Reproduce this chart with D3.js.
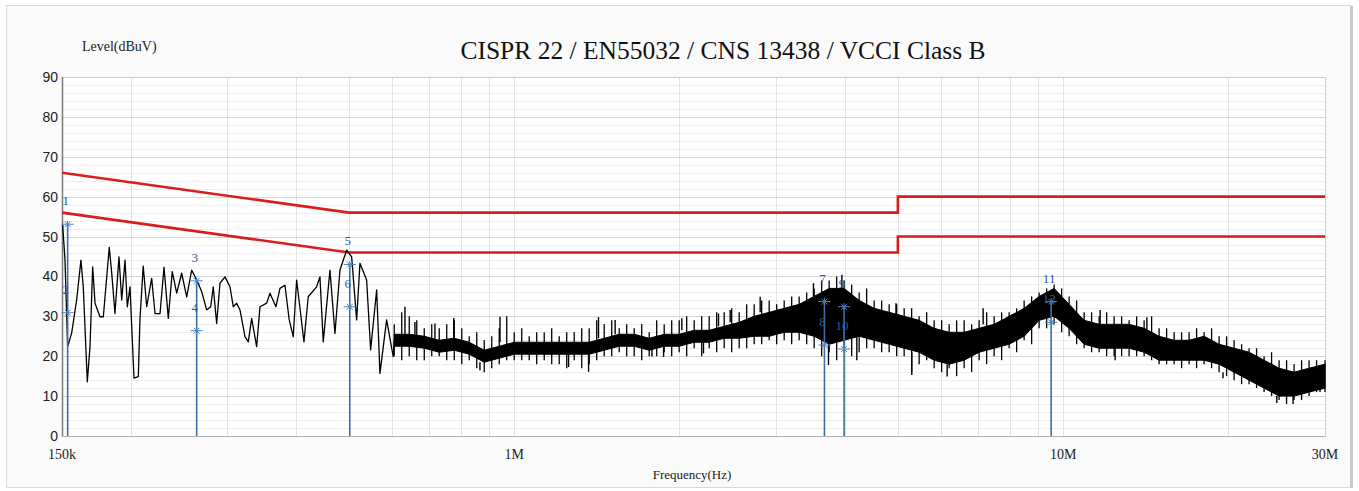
<!DOCTYPE html>
<meta charset="utf-8">
<script src="https://d3js.org/d3.v7.min.js"></script>
<style>
  body { margin: 0; background: #fff; }
</style>
<div id="chart"></div>
<script>

// limit lines (MHz, dBuV)
var qpFreq = [0.15, 0.5, 5, 5, 30];
var qpLevel = [66, 56, 56, 60, 60];
var avFreq = [0.15, 0.5, 5, 5, 30];
var avLevel = [56, 46, 46, 50, 50];

// trace below 600 kHz, read peak by peak (kHz, dBuV)
var lowFreq = [150.4, 151.9, 153.6, 156.2, 159.5, 162.4, 164.0, 166.8, 168.7, 170.6,
  172.3, 175.9, 178.4, 182.9, 184.8, 187.3, 190.5, 192.7, 195.4, 197.3,
  199.5, 202.9, 206.6, 208.0, 210.9, 214.0, 218.5, 221.6, 226.3, 230.1,
  234.3, 238.2, 242.7, 247.8, 253.1, 258.4, 263.9, 269.5, 275.2, 279.9,
  282.9, 287.0, 291.0, 297.2, 303.5, 307.7, 312.1, 316.5, 323.2, 327.7,
  332.4, 339.4, 344.2, 354.0, 358.9, 368.0, 374.3, 382.2, 389.1, 395.7,
  401.4, 413.9, 421.4, 436.5, 442.6, 448.8, 461.6, 471.4, 481.4, 495.1,
  505.6, 516.3, 523.5, 538.4, 547.5, 561.5, 569.3, 585.5, 601.9];
var lowLevel = [52.9, 44.1, 22.4, 25.8, 34.1, 44.1, 37.4, 13.6, 22.4, 42.4,
  33.3, 29.9, 29.9, 47.3, 40.8, 30.7, 44.9, 34.1, 44.1, 32.4,
  37.4, 14.5, 14.9, 29.1, 42.6, 32.4, 39.5, 30.7, 30.7, 42.3,
  29.5, 41.2, 35.8, 40.8, 34.9, 41.6, 39.1, 36.2, 31.6, 32.4,
  37.4, 28.2, 38.3, 39.9, 37.4, 32.4, 33.3, 31.6, 24.9, 23.6,
  29.5, 22.4, 32.4, 33.3, 35.8, 32.4, 37.0, 37.8, 29.1, 24.9,
  39.1, 23.6, 34.9, 37.4, 39.9, 23.6, 41.6, 25.7, 41.6, 46.6,
  44.9, 29.1, 43.3, 39.1, 21.6, 36.6, 15.7, 29.1, 19.9];

// trace above 600 kHz is a dense noise band: core lower / upper edge (MHz, dBuV)
var bandFreq = [0.6045, 0.6438, 0.6856, 0.7301, 0.7776, 0.828, 0.8818, 0.939, 1.0, 1.0649,
  1.1341, 1.2077, 1.2862, 1.3696, 1.4586, 1.5533, 1.6542, 1.7616, 1.876, 1.9978,
  2.1275, 2.2656, 2.4128, 2.5695, 2.7363, 2.914, 3.1032, 3.3047, 3.5193, 3.7478,
  3.9912, 4.2504, 4.5264, 4.8203, 5.1333, 5.4667, 5.8216, 6.1997, 6.6023, 7.031,
  7.4875, 7.9737, 8.4915, 9.0429, 9.6301, 10.255, 10.921, 11.631, 12.386, 13.19,
  14.047, 14.959, 15.93, 16.964, 18.066, 19.239, 20.488, 21.818, 23.235, 24.744,
  26.351, 28.062, 30.0];
var bandLow = [22.5, 22.5, 22, 21, 21.5, 20.5, 18.5, 19.5, 20.5, 20.5,
  20.5, 20.5, 20.5, 20.5, 21.5, 22.5, 22.5, 21.5, 22.5, 22.5,
  23.5, 23.5, 24.5, 24.5, 25, 25, 26, 26, 25, 23,
  24, 25, 24, 23, 22, 21, 19, 18, 19, 21,
  22, 23, 25, 29, 30, 27, 23, 22, 22, 22,
  21, 19, 19, 19, 19, 18, 16, 14, 12, 10,
  10, 11, 12];
var bandHigh = [25.5, 25.5, 25, 24, 24.5, 23.5, 21.5, 22.5, 23.5, 23.5,
  23.5, 23.5, 23.5, 23.5, 24.5, 25.5, 25.5, 24.5, 25.5, 25.5,
  26.5, 26.5, 27.5, 28.5, 30, 31, 32, 33, 35, 37,
  37, 34, 32, 31, 30, 29, 27, 26, 26, 27,
  28, 30, 32, 35, 37, 33, 29, 28, 28, 28,
  27, 25, 24, 24, 25, 23, 22, 21, 19, 17,
  16, 17, 18];
// outer tips of the noise at the band samples (dBuV)
var bandTipTop = [28, 30, 27, 27, 29, 25, 24, 27, 26, 25,
  26, 25, 26, 27, 28, 27, 27, 26, 28, 29,
  29, 30, 31, 31, 33, 34, 34, 35, 37, 39,
  39, 36, 34, 33, 32, 30, 29, 28, 29, 29,
  30, 31, 34, 36, 38, 35, 31, 30, 30, 29,
  29, 27, 26, 26, 26, 25, 24, 22, 20, 19,
  18, 19, 19];
var bandTipBottom = [20, 20, 19, 20, 19, 19, 16, 18, 19, 19,
  19, 18, 19, 18, 20, 21, 20, 20, 21, 21,
  22, 22, 22, 22, 23, 24, 24, 24, 22, 21,
  22, 21, 22, 21, 20, 18, 17, 17, 17, 19,
  20, 22, 24, 27, 28, 25, 22, 21, 20, 20,
  20, 18, 18, 18, 18, 16, 14, 13, 11, 9,
  9, 10, 11];

// outer tips of the noise between the band samples (MHz, dBuV)
var tipFreq = [0.6238, 0.6644, 0.7075, 0.7534, 0.8024, 0.8545, 0.91, 0.969, 1.032, 1.0989,
  1.1703, 1.2463, 1.3273, 1.4134, 1.5052, 1.6029, 1.7071, 1.8179, 1.936, 2.0616,
  2.1955, 2.338, 2.4899, 2.6516, 2.8238, 3.0071, 3.2024, 3.4103, 3.6318, 3.8676,
  4.1188, 4.3862, 4.6711, 4.9744, 5.2974, 5.6414, 6.0077, 6.3978, 6.8133, 7.2557,
  7.7268, 8.2286, 8.7629, 9.3319, 9.9379, 10.583, 11.27, 12.003, 12.782, 13.612,
  14.496, 15.437, 16.439, 17.506, 18.643, 19.854, 21.143, 22.515, 23.978, 25.535,
  27.193, 28.959];
var tipTop = [31, 29, 28, 28, 27, 26, 25, 30, 27, 26,
  27, 26, 27, 29, 29, 28, 28, 29, 29, 30,
  30, 31, 32, 33, 34, 33, 35, 36, 39, 40,
  38, 37, 34, 33, 32, 31, 29, 29, 28, 31,
  31, 32, 35, 37, 37, 34, 31, 31, 30, 30,
  30, 27, 26, 27, 27, 25, 23, 22, 21, 19,
  19, 19];
var tipBottom = [19, 19, 20, 19, 18, 17, 17, 19, 19, 18,
  18, 17, 17, 19, 20, 20, 19, 20, 20, 20,
  20, 21, 21, 22, 23, 23, 23, 23, 20, 19,
  20, 22, 21, 20, 16, 19, 16, 15, 16, 18,
  19, 21, 23, 27, 26, 23, 21, 20, 20, 20,
  19, 18, 17, 17, 17, 15, 13, 12, 10, 8,
  9, 11];

// single spikes standing out of the band (MHz, dBuV)
var spikeFreq = [0.6323, 0.6593, 0.717, 0.776, 0.866, 0.942, 1.256, 1.366, 1.424, 1.527,
  1.782, 1.871, 2.02, 2.212, 2.356, 2.474, 2.806, 3.509, 3.737, 3.953,
  4.209, 4.96, 5.30, 6.148, 7.15, 11.68, 12.44, 14.21, 19.56, 24.51,
  26.24, 29.38];
var spikeLevel = [32.4, 28.6, 28.2, 29.6, 16.5, 29.9, 17.3, 16.1, 29.8, 29.1,
  19.9, 19.8, 29.5, 20.7, 30.7, 31.6, 34.9, 38.3, 17.8, 40.4,
  19.0, 33.3, 15.3, 14.9, 32.0, 31.6, 19.0, 29.8, 14.5, 8.3,
  8.0, 11.0];

// markers (MHz, dBuV)
var markerNo = [1, 2, 3, 4, 5, 6, 7, 8, 9, 10, 11, 12];
var markerFreq = [0.1536, 0.1536, 0.2639, 0.2639, 0.5016, 0.5016, 3.674, 3.674, 3.99, 3.99, 9.51, 9.51];
var markerLevel = [53.1, 30.9, 38.9, 26.4, 43.0, 32.4, 33.7, 22.8, 32.4, 21.8, 33.7, 28.5];

// axis ticks
var xTicks = [0.15, 1, 10, 30];
var xTickLabels = ["150k", "1M", "10M", "30M"];
var xGrid = [0.2, 0.3, 0.4, 0.5, 0.6, 0.7, 0.8, 0.9, 1, 2, 3, 4, 5, 6, 7, 8, 9, 10, 20];
var yTicks = [0, 10, 20, 30, 40, 50, 60, 70, 80, 90];

var W = 1359, H = 491;
var margin = {top: 77, right: 34, bottom: 55, left: 62},
    width = W - margin.left - margin.right,
    height = H - margin.top - margin.bottom;

var svg = d3.select("#chart")
  .append("svg")
    .attr("width", W)
    .attr("height", H);

// outer panel
svg.append("rect")
  .attr("x", 6.5).attr("y", 5.5)
  .attr("width", 1344).attr("height", 482)
  .attr("fill", "#fafafa")
  .attr("stroke", "#d9d9d9");
svg.append("line")
  .attr("x1", 1351.5).attr("x2", 1351.5)
  .attr("y1", 6).attr("y2", 488)
  .attr("stroke", "#c9c9c9").attr("stroke-width", 3);

var g = svg.append("g")
  .attr("transform", "translate(" + margin.left + "," + margin.top + ")");

var x = d3.scaleLog()
  .domain([0.15, 30])
  .range([0, width]);
var y = d3.scaleLinear()
  .domain([0, 90])
  .range([height, 0]);

g.append("rect")
  .attr("width", width).attr("height", height)
  .attr("fill", "#fff");

// grid
g.selectAll(".minor")
  .data(d3.range(0, 90, 2).filter(function(v) { return v % 10 != 0; }))
  .enter().append("line")
    .attr("x1", 0).attr("x2", width)
    .attr("y1", function(d) { return Math.round(y(d)) + 0.5; })
    .attr("y2", function(d) { return Math.round(y(d)) + 0.5; })
    .attr("stroke", "#eeeeee");
g.selectAll(".vgrid")
  .data(xGrid)
  .enter().append("line")
    .attr("x1", function(d) { return Math.round(x(d)) + 0.5; })
    .attr("x2", function(d) { return Math.round(x(d)) + 0.5; })
    .attr("y1", 0).attr("y2", height)
    .attr("stroke", "#e3e3e3");
g.selectAll(".major")
  .data(yTicks.slice(1))
  .enter().append("line")
    .attr("x1", 0).attr("x2", width)
    .attr("y1", function(d) { return Math.round(y(d)) + 0.5; })
    .attr("y2", function(d) { return Math.round(y(d)) + 0.5; })
    .attr("stroke", "#d6d6d6");

g.append("rect")
  .attr("x", 0.5).attr("y", 0.5)
  .attr("width", width).attr("height", height)
  .attr("fill", "none")
  .attr("stroke", "#cfcfcf");
g.append("line")
  .attr("x1", 0.5).attr("x2", 0.5).attr("y1", 0).attr("y2", height + 1)
  .attr("stroke", "#7a7a7a").attr("stroke-width", 1.5);
g.append("line")
  .attr("x1", 0).attr("x2", width).attr("y1", height + 0.5).attr("y2", height + 0.5)
  .attr("stroke", "#b0b0b0");

// tick labels
g.selectAll(".ylab")
  .data(yTicks)
  .enter().append("text")
    .attr("x", -4)
    .attr("y", function(d) { return y(d); })
    .attr("dy", "0.36em")
    .attr("text-anchor", "end")
    .attr("font-family", "Liberation Sans, Arial, sans-serif")
    .attr("font-size", "14px")
    .attr("fill", "#222")
    .text(function(d) { return d; });

g.selectAll(".xlab")
  .data(xTicks)
  .enter().append("text")
    .attr("x", function(d) { return x(d); })
    .attr("y", height + 23)
    .attr("text-anchor", "middle")
    .attr("font-family", "Liberation Serif, serif")
    .attr("font-size", "14px")
    .attr("fill", "#222")
    .text(function(d, i) { return xTickLabels[i]; });

svg.append("text")
  .attr("x", 692).attr("y", 479)
  .attr("text-anchor", "middle")
  .attr("font-family", "Liberation Serif, serif")
  .attr("font-size", "13px")
  .attr("fill", "#222")
  .text("Frequency(Hz)");

svg.append("text")
  .attr("x", 82).attr("y", 51)
  .attr("font-family", "Liberation Serif, serif")
  .attr("font-size", "14px")
  .attr("fill", "#222")
  .text("Level(dBuV)");

svg.append("text")
  .attr("x", 723).attr("y", 59)
  .attr("text-anchor", "middle")
  .attr("font-family", "Liberation Serif, serif")
  .attr("font-size", "25.5px")
  .attr("fill", "#111")
  .text("CISPR 22 / EN55032 / CNS 13438 / VCCI Class B");

// limit lines
var limitLine = d3.line()
  .x(function(d) { return x(d[0]); })
  .y(function(d) { return y(d[1]); });

[[qpFreq, qpLevel], [avFreq, avLevel]].forEach(function(l) {
  g.append("path")
    .datum(d3.zip(l[0], l[1]))
    .attr("fill", "none")
    .attr("stroke", "#d91c1c")
    .attr("stroke-width", 2.6)
    .attr("d", limitLine);
});

// trace: low part as a line
var lowPts = d3.zip(lowFreq, lowLevel).map(function(d) { return [d[0] / 1000, d[1]]; });
// join the line to the start of the band
lowPts.push([bandFreq[0], (bandLow[0] + bandHigh[0]) / 2]);
g.append("path")
  .datum(lowPts)
  .attr("fill", "none")
  .attr("stroke", "#000")
  .attr("stroke-width", 1.3)
  .attr("stroke-linejoin", "round")
  .attr("d", limitLine);

// trace: dense band core
var band = d3.area()
  .x(function(d) { return x(d[0]); })
  .y0(function(d) { return y(d[1]); })
  .y1(function(d) { return y(d[2]); });
g.append("path")
  .datum(d3.zip(bandFreq, bandLow, bandHigh))
  .attr("fill", "#000")
  .attr("stroke", "#000")
  .attr("stroke-width", 1)
  .attr("d", band);

// noise tips, at and between the band samples
var tips = d3.zip(tipFreq, tipBottom, tipTop).concat(d3.zip(bandFreq, bandTipBottom, bandTipTop));
g.selectAll(".tip")
  .data(tips)
  .enter().append("line")
    .attr("x1", function(d) { return x(d[0]); })
    .attr("x2", function(d) { return x(d[0]); })
    .attr("y1", function(d) { return y(d[1]); })
    .attr("y2", function(d) { return y(d[2]); })
    .attr("stroke", "#000")
    .attr("stroke-width", 1.3);

// spikes
var bis = d3.bisector(function(d) { return d; }).left;
g.selectAll(".spike")
  .data(d3.zip(spikeFreq, spikeLevel))
  .enter().append("line")
    .attr("x1", function(d) { return x(d[0]); })
    .attr("x2", function(d) { return x(d[0]); })
    .attr("y1", function(d) { return y(d[1]); })
    .attr("y2", function(d) {
      var i = Math.min(bis(bandFreq, d[0]), bandFreq.length - 1);
      var edge = d[1] > bandHigh[i] ? bandHigh[i] : bandLow[i];
      return y(edge);
    })
    .attr("stroke", "#000")
    .attr("stroke-width", 1.4);

// markers
var markers = markerNo.map(function(n, i) { return {n: n, f: markerFreq[i], v: markerLevel[i]}; });
var pairs = d3.groups(markers, function(d) { return d.f; });

g.selectAll(".mline")
  .data(pairs)
  .enter().append("line")
    .attr("x1", function(d) { return x(d[0]); })
    .attr("x2", function(d) { return x(d[0]); })
    .attr("y1", height)
    .attr("y2", function(d) { return y(d3.max(d[1], function(m) { return m.v; })); })
    .attr("stroke", "#3b6ea8")
    .attr("stroke-width", 1.6);

g.selectAll(".mstar")
  .data(markers)
  .enter().append("path")
    .attr("transform", function(d) { return "translate(" + x(d.f) + "," + y(d.v) + ")"; })
    .attr("d", "M-6,0H6M-3,-3L3,3M-3,3L3,-3M0,-3.5V3.5")
    .attr("fill", "none")
    .attr("stroke", "#4a80c4")
    .attr("stroke-width", 1);

g.selectAll(".mlab")
  .data(markers)
  .enter().append("text")
    .attr("x", function(d) { return x(d.f) - 2; })
    .attr("y", function(d) { return y(d.v) - 19; })
    .attr("text-anchor", "middle")
    .attr("font-family", "Liberation Serif, serif")
    .attr("font-size", "13px")
    .attr("fill", "#2d5a9a")
    .text(function(d) { return d.n; });

</script>
